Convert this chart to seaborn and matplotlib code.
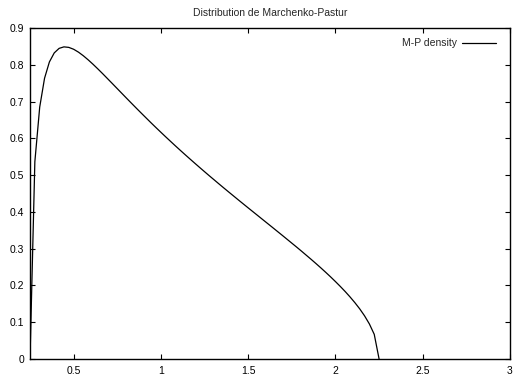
import matplotlib
matplotlib.use("Agg")
import matplotlib.pyplot as plt
import seaborn as sns
import pandas as pd
from matplotlib.ticker import FuncFormatter

x_vals = [0.25, 0.2778, 0.3056, 0.3333, 0.3611, 0.3889, 0.4167, 0.4444, 0.4722, 0.5,
          0.5278, 0.5556, 0.5833, 0.6111, 0.6389, 0.6667, 0.6944, 0.7222, 0.75, 0.7778,
          0.8056, 0.8333, 0.8611, 0.8889, 0.9167, 0.9444, 0.9722, 1.0, 1.0278, 1.0556,
          1.0833, 1.1111, 1.1389, 1.1667, 1.1944, 1.2222, 1.25, 1.2778, 1.3056, 1.3333,
          1.3611, 1.3889, 1.4167, 1.4444, 1.4722, 1.5, 1.5278, 1.5556, 1.5833, 1.6111,
          1.6389, 1.6667, 1.6944, 1.7222, 1.75, 1.7778, 1.8056, 1.8333, 1.8611, 1.8889,
          1.9167, 1.9444, 1.9722, 2.0, 2.0278, 2.0556, 2.0833, 2.1111, 2.1389, 2.1667,
          2.1944, 2.2222, 2.25]
density = [0.0, 0.5364, 0.6848, 0.7633, 0.8077, 0.8323, 0.8446, 0.8487, 0.8473, 0.8422,
           0.8343, 0.8245, 0.8134, 0.8014, 0.7887, 0.7756, 0.7622, 0.7487, 0.7351, 0.7215,
           0.7079, 0.6945, 0.6811, 0.6679, 0.6548, 0.6418, 0.6290, 0.6164, 0.6039, 0.5916,
           0.5794, 0.5674, 0.5555, 0.5438, 0.5322, 0.5207, 0.5093, 0.4980, 0.4869, 0.4758,
           0.4648, 0.4539, 0.4431, 0.4323, 0.4216, 0.4109, 0.4003, 0.3897, 0.3791, 0.3685,
           0.3579, 0.3472, 0.3366, 0.3258, 0.3150, 0.3042, 0.2932, 0.2820, 0.2708, 0.2593,
           0.2476, 0.2356, 0.2233, 0.2105, 0.1973, 0.1835, 0.1689, 0.1533, 0.1364, 0.1174,
           0.0953, 0.0671, 0.0]
x_ticks = [0.5, 1, 1.5, 2, 2.5, 3]
y_ticks = [0, 0.1, 0.2, 0.3, 0.4, 0.5, 0.6, 0.7, 0.8, 0.9]

df = pd.DataFrame({"x": x_vals, "density": density})

sns.set_style("ticks")
plt.rcParams["font.family"] = ["Liberation Sans", "DejaVu Sans"]

fig = plt.figure(figsize=(5.14, 3.75), dpi=100)
ax = fig.add_axes([30 / 514, 1 - 359 / 375, 480 / 514, 331 / 375])

sns.lineplot(data=df, x="x", y="density", color="black", linewidth=0.9,
             label="M-P density", ax=ax, sort=False)

ax.set_xlim(0.25, 3)
ax.set_ylim(0, 0.9)
ax.set_xticks(x_ticks)
ax.set_yticks(y_ticks)
fmt = FuncFormatter(lambda v, p: f"{v:g}")
ax.xaxis.set_major_formatter(fmt)
ax.yaxis.set_major_formatter(fmt)
ax.tick_params(direction="in", length=3.6, width=0.8, labelsize=7.5,
               top=True, right=True, colors="black")
ax.tick_params(axis="x", pad=5)
ax.tick_params(axis="y", pad=4)
for s in ax.spines.values():
    s.set_visible(True)
    s.set_linewidth(1.0)
    s.set_color("black")
ax.set_xlabel("")
ax.set_ylabel("")
ax.set_title("Distribution de Marchenko-Pastur", fontsize=7.5, pad=9)

ax.legend(loc="upper right", frameon=False, markerfirst=False, fontsize=7.5,
          handlelength=3.3, borderaxespad=0.6, handletextpad=0.5,
          bbox_to_anchor=(0.993, 1.0))

fig.savefig("out.png", dpi=100)
